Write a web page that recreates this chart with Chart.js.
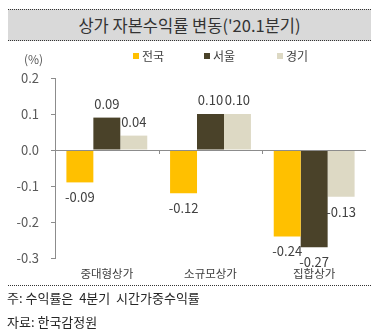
<!DOCTYPE html>
<html><head><meta charset="utf-8">
<script src="https://cdn.jsdelivr.net/npm/chart.js@4"></script>
<style>
html,body{margin:0;padding:0;background:#fff;}
#wrap{position:relative;width:377px;height:336px;overflow:hidden;font-family:"Noto Sans CJK KR","Noto Sans",sans-serif;}
canvas{position:absolute;left:0;top:0;}
#title{position:absolute;left:8px;top:9px;width:363px;height:30px;background:#d9d9d9;border-top:1px dotted #333;border-bottom:1px dotted #333;text-align:center;line-height:30px;font-size:16.5px;color:#333;}
#unit{position:absolute;left:24px;top:50px;font-size:12px;color:#595959;}
#sep{position:absolute;left:8px;top:285px;width:363px;border-top:1px dotted #333;}
.note{position:absolute;left:7px;font-size:13px;color:#262626;white-space:pre;}
</style></head>
<body><div id="wrap">
<canvas id="c" width="377" height="336"></canvas>
<div id="title">상가 자본수익률 변동('20.1분기)</div>
<div id="unit">(%)</div>
<div id="sep"></div>
<div class="note" style="top:288px">주: 수익률은  4분기  시간가중수익률</div>
<div class="note" style="top:312px">자료: 한국감정원</div>
</div>
<script>
const categories = ['중대형상가','소규모상가','집합상가'];
const seriesNames = ['전국','서울','경기'];
const nationwide = [-0.09,-0.12,-0.24];
const seoul = [0.09,0.10,-0.27];
const gyeonggi = [0.04,0.10,-0.13];
const yTicks = [0.2,0.1,0.0,-0.1,-0.2,-0.3];
const colors = ['#FFC000','#4A4229','#DDD9C4'];
const FONT = '"Noto Sans CJK KR","Noto Sans",sans-serif';

const labelPlugin = {
  id:'labels',
  afterDatasetsDraw(chart){
    const ctx = chart.ctx, ca = chart.chartArea;
    const y0 = chart.scales.y.getPixelForValue(0);
    ctx.save();
    ctx.strokeStyle = '#8c8c8c'; ctx.lineWidth = 1;
    ctx.beginPath(); ctx.moveTo(ca.left, y0+0.5); ctx.lineTo(ca.right, y0+0.5); ctx.stroke();
    const xs = chart.scales.x;
    for (let i=1;i<categories.length;i++){
      const xp = Math.round((xs.getPixelForValue(i-1)+xs.getPixelForValue(i))/2)+0.5;
      ctx.beginPath(); ctx.moveTo(xp,y0); ctx.lineTo(xp,y0+4); ctx.stroke();
    }
    ctx.font = '13px '+FONT; ctx.fillStyle = '#404040';
    ctx.textAlign='center'; ctx.textBaseline='middle';
    chart.data.datasets.forEach((ds,di)=>{
      chart.getDatasetMeta(di).data.forEach((el,i)=>{
        const v = ds.data[i];
        const t = v.toFixed(2);
        const yy = v>=0 ? el.y-14 : el.y+15;
        ctx.fillText(t, el.x, yy);
      });
    });
    const lx = [133,204,277];
    ctx.font = '12px '+FONT; ctx.textAlign='left';
    chart.data.datasets.forEach((ds,di)=>{
      ctx.fillStyle = ds.backgroundColor;
      ctx.fillRect(lx[di],53,6,6);
      ctx.fillStyle = '#404040';
      ctx.fillText(ds.label, lx[di]+9, 56);
    });
    ctx.restore();
  }
};

new Chart(document.getElementById('c'),{
  type:'bar',
  data:{labels:categories,datasets:[
    {label:seriesNames[0],data:nationwide,backgroundColor:colors[0]},
    {label:seriesNames[1],data:seoul,backgroundColor:colors[1]},
    {label:seriesNames[2],data:gyeonggi,backgroundColor:colors[2]}
  ]},
  options:{
    responsive:false,animation:false,
    layout:{padding:{top:78,bottom:52,left:0,right:11}},
    datasets:{bar:{categoryPercentage:0.78,barPercentage:1.0,borderWidth:0}},
    plugins:{legend:{display:false},tooltip:{enabled:false}},
    scales:{
      x:{grid:{display:false,drawTicks:false},border:{display:false},
        ticks:{padding:9,color:'#404040',font:{family:FONT,size:11.5}},
        afterFit(s){s.height=26;}},
      y:{min:-0.3,max:0.2,
        afterBuildTicks(s){s.ticks=yTicks.map(v=>({value:v}));},
        grid:{drawOnChartArea:false,drawTicks:true,tickLength:4,color:'#8c8c8c'},
        border:{display:true,color:'#8c8c8c'},
        ticks:{padding:12,color:'#595959',font:{family:FONT,size:13},callback:v=>v.toFixed(1)},
        afterFit(s){s.width=55;}}
    }
  },
  plugins:[labelPlugin]
});
</script>
</body></html>
